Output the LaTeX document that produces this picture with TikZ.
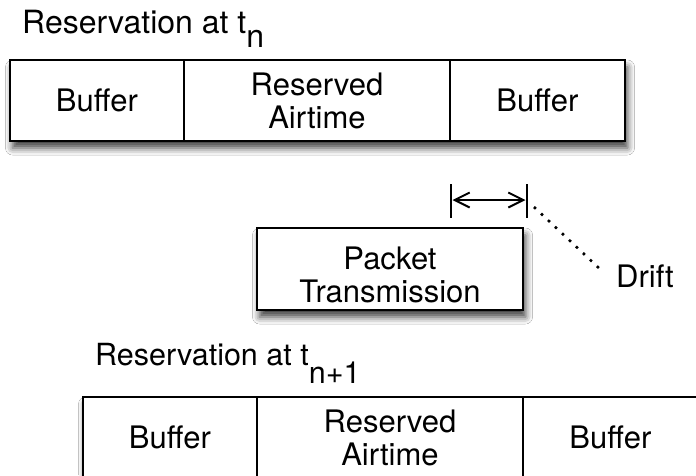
\documentclass[tikz,border=0pt]{standalone}
\usepackage{fontspec}
\setmainfont{TeX Gyre Heros}
\usetikzlibrary{arrows.meta,shadows.blur}

\tikzset{
  txt/.style={font=\fontsize{31}{33}\selectfont},
  cell/.style={txt, draw, line width=2.4pt, minimum height=81pt, inner sep=0pt, align=center, fill=white},
  slab/.style={fill=white, inner sep=0pt, minimum height=81pt,
    blur shadow={shadow xshift=2.5pt, shadow yshift=-7pt, shadow blur radius=7pt, shadow opacity=75}},
  caption/.style={inner sep=0pt, anchor=base west},
  tick/.style={line width=2.4pt},
  span/.style={line width=2pt, shorten <=1.5pt, shorten >=1.5pt,
    {Straight Barb[length=15pt,width=15pt]}-{Straight Barb[length=15pt,width=15pt]}},
  leader/.style={line width=2.6pt, dash pattern=on 2.6pt off 7pt},
}

\begin{document}
\begin{tikzpicture}[x=1pt,y=-1pt]
\useasboundingbox[fill=white] (0,0) rectangle (696,475);

% reservation at t_n
\node[caption, font=\fontsize{32}{33}\selectfont] (captop) at (22,33) {Reservation at t\raisebox{-14pt}{n}};
\node[slab, minimum width=615pt] (slabtop) at (317.5,100.5) {};
\node[cell, minimum width=174pt] (topbufl) at (97,100.5) {Buffer};
\node[cell, minimum width=266pt] (topres) at (317,100.5) {Reserved\\Airtime};
\node[cell, minimum width=175pt] (topbufr) at (537.5,100.5) {Buffer};

% packet transmission
\node[slab, draw, line width=2.4pt, minimum width=266pt, minimum height=82pt] (pkt) at (390,269) {};
\node[txt, align=center, inner sep=0pt] (pkttxt) at (390,274.5) {Packet\\Transmission};

% drift marker
\coordinate (tlt) at (451,184);
\coordinate (tlb) at (451,218);
\coordinate (trt) at (527,184);
\coordinate (trb) at (527,218);
\coordinate (al) at (451,200);
\coordinate (ar) at (527,200);
\draw[tick] (tlt) -- (tlb);
\draw[tick] (trt) -- (trb);
\draw[span] (al) -- (ar);
\coordinate (ds) at (534,207);
\coordinate (de) at (601,270);
\draw[leader] (ds) -- (de);
\node[caption, txt] (drift) at (616,287) {Drift};

% reservation at t_{n+1}
\node[caption, font=\fontsize{30.5}{33}\selectfont] (capbot) at (95,365) {Reservation at t\raisebox{-18pt}{n+1}};
\node[slab, minimum width=615pt] (slabbot) at (390.5,437.5) {};
\node[cell, minimum width=174pt] (botbufl) at (170,437.5) {Buffer};
\node[cell, minimum width=266pt] (botres) at (390,437.5) {Reserved\\Airtime};
\node[cell, minimum width=175pt] (botbufr) at (610.5,437.5) {Buffer};
\end{tikzpicture}
\end{document}
